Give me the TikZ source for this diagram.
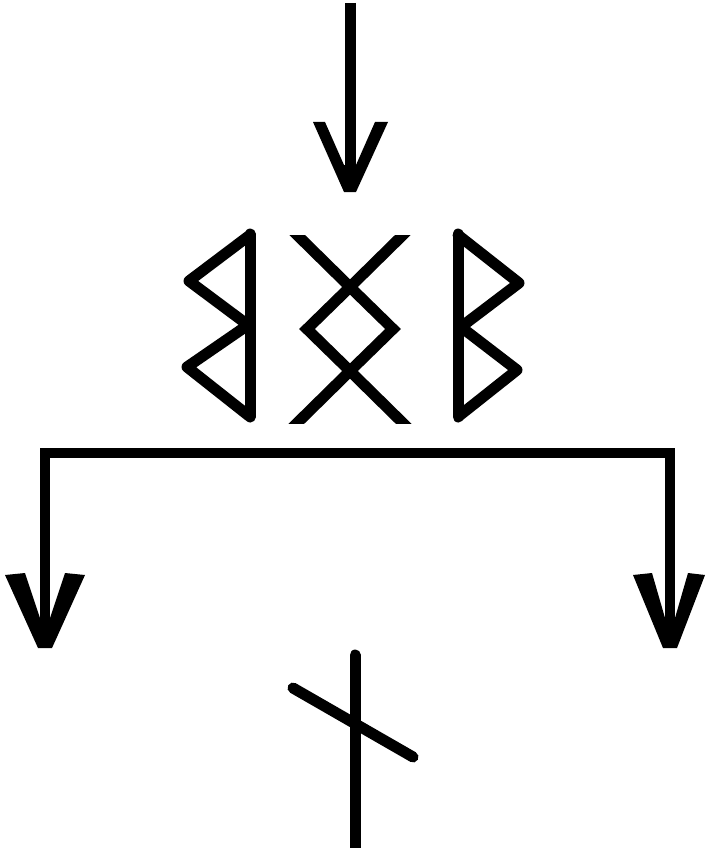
\documentclass[tikz,border=0pt]{standalone}
\begin{document}
\begin{tikzpicture}[x=1pt,y=-1pt,
  stroke/.style={line width=10pt,black},
  rune/.style={line width=11pt,black,line join=round,line cap=round},
  head/.style={fill=black}]
\useasboundingbox (0,0) rectangle (705,848);
% top arrow
\coordinate (topstart) at (350,3);
\coordinate (toptip) at (350,186);
\draw[line width=11pt] (topstart) -- (toptip);
\fill[head] (313,122) -- (325,122) -- (344,165) -- (356,165) -- (375,122) -- (388,122) -- (356,192) -- (344,192) -- cycle;
% left rune (mirrored berkano)
\draw[rune] (250,234) -- (250,417);
\draw[rune] (250,235) -- (189,281) -- (248,325) -- (187,367) -- (249,416);
% middle rune
\begin{scope}
\clip (280,235) rectangle (420,423);
\draw[line width=11pt,line join=miter] (288,226) -- (350,287) -- (393,329) -- (350,371) -- (288,432);
\draw[line width=11pt,line join=miter] (412,226) -- (350,287) -- (307,329) -- (350,371) -- (412,432);
\end{scope}
% right rune (berkano)
\draw[rune] (458,234) -- (458,417);
\draw[rune] (458,235) -- (519,283) -- (461,327) -- (517,370) -- (459,416);
% bracket
\draw[stroke,line join=miter] (45,625) -- (45,453) -- (670,453) -- (670,625);
\fill[head] (5,575) -- (25,573) -- (40,618) -- (50,618) -- (65,573) -- (85,575) -- (52,648) -- (38,648) -- cycle;
\fill[head] (633,575) -- (652,573) -- (665,618) -- (675,618) -- (688,573) -- (705,575) -- (677,648) -- (663,648) -- cycle;
% bottom rune
\draw[rune] (355,655) -- (355,860);
\draw[rune] (293,688) -- (413,757);
\end{tikzpicture}
\end{document}
